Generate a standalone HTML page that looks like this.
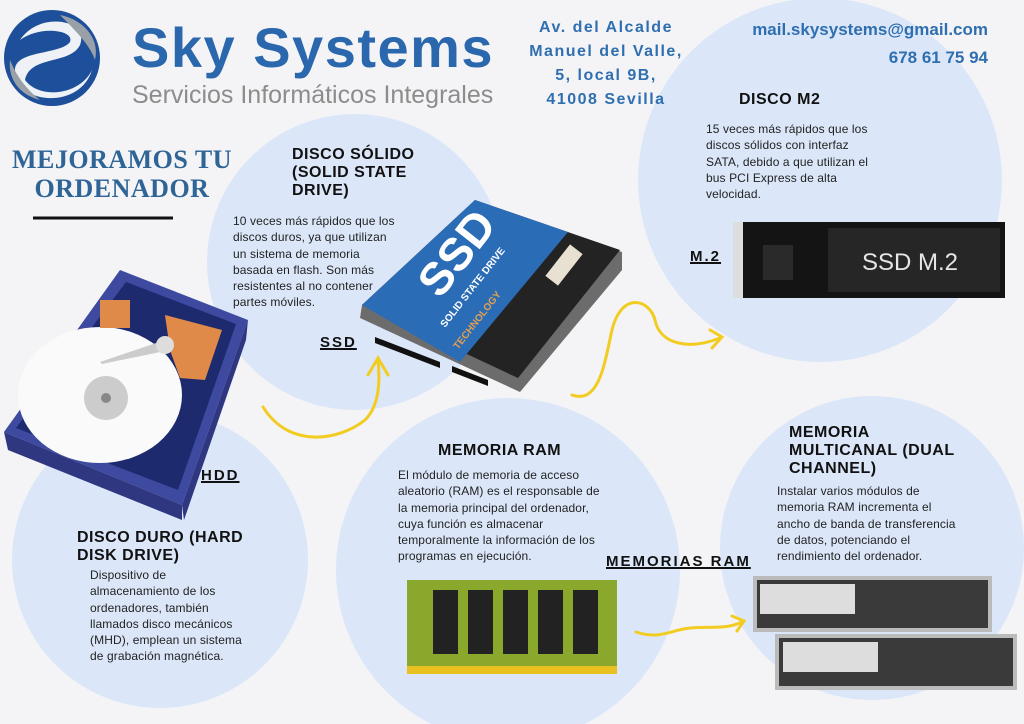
<!DOCTYPE html>
<html><head><meta charset="utf-8"><style>
body{margin:0;width:1024px;height:724px;overflow:hidden;background:#f4f4f6;position:relative;font-family:"Liberation Sans",sans-serif;}
.t{position:absolute;color:#111;}
.h{font-weight:bold;font-size:16px;line-height:18px;letter-spacing:0.5px;}
.p{font-size:12px;line-height:16.3px;color:#222;letter-spacing:0.1px;}
.u{font-weight:bold;font-size:15px;letter-spacing:2px;text-decoration:underline;text-decoration-thickness:2px;}
.addr{font-weight:bold;font-size:16px;line-height:24px;color:#2f6fb0;letter-spacing:1.5px;text-align:center;}
</style></head><body>
<svg width="1024" height="724" style="position:absolute;left:0;top:0">
<g fill="#dbe7f8">
<circle cx="355" cy="262" r="148"/>
<circle cx="820" cy="180" r="182"/>
<circle cx="160" cy="560" r="148"/>
<circle cx="508" cy="570" r="172"/>
<circle cx="872" cy="548" r="152"/>
</g>
<!-- logo -->
<circle cx="52" cy="58" r="48" fill="#1d4f9a"/>
<path d="M20 40 C40 10 90 20 80 45 C70 65 30 55 25 80 C40 100 80 95 92 70 C80 110 15 105 15 70 C15 50 60 55 70 42 C75 30 40 25 20 40Z" fill="#eef1f5"/>
<path d="M60 15 C85 20 100 40 95 60 C90 45 75 30 60 15Z" fill="#9aa0a8"/>
<path d="M40 100 C20 95 8 80 10 60 C18 80 30 92 40 100Z" fill="#9aa0a8"/>
<line x1="33" y1="218" x2="173" y2="218" stroke="#111" stroke-width="3"/>
<!-- HDD -->
<g>
<polygon points="120,270 248,320 182,505 4,432" fill="#3e4aa0"/>
<polygon points="4,432 182,505 182,520 8,450" fill="#2e3780"/>
<polygon points="182,505 248,320 246,340 184,520" fill="#2e3780"/>
<polygon points="126,282 236,324 178,490 16,428" fill="#1d2a6e"/>
<ellipse cx="100" cy="395" rx="82" ry="68" fill="#fafafa"/>
<circle cx="106" cy="398" r="22" fill="#ccc"/>
<circle cx="106" cy="398" r="5" fill="#888"/>
<path d="M165 315 L222 330 L205 380 L180 378 L170 350Z" fill="#e08a4a"/>
<rect x="100" y="300" width="30" height="28" fill="#e08a4a"/>
<path d="M100 362 L165 340 L170 350 L102 364Z" fill="#ccc"/>
<circle cx="165" cy="345" r="9" fill="#ddd"/>
</g>
<!-- SSD -->
<g>
<polygon points="475,203 622,252 622,270 520,392 360,318 362,305" fill="#6c6c6c"/>
<polygon points="475,200 620,250 518,378 362,305" fill="#232323"/>
<polygon points="475,200 568,232 460,362 362,305" fill="#2a6cb6"/>
<polygon points="375,337 440,362 440,368 375,343" fill="#111"/>
<polygon points="452,366 488,380 488,386 452,372" fill="#111"/>
<text x="0" y="0" transform="translate(440,300) rotate(-52)" font-family="Liberation Sans" font-weight="bold" font-size="46" fill="#fff">SSD</text>
<text x="0" y="0" transform="translate(445,328) rotate(-52)" font-family="Liberation Sans" font-weight="bold" font-size="10" fill="#fff">SOLID STATE DRIVE</text>
<text x="0" y="0" transform="translate(458,350) rotate(-52)" font-family="Liberation Sans" font-weight="bold" font-size="10" fill="#e0a050">TECHNOLOGY</text>
<rect x="556" y="245" width="16" height="40" transform="rotate(38 564 265)" fill="#e8e0d0"/>
</g>
<!-- M.2 -->
<rect x="733" y="222" width="272" height="76" fill="#141414"/>
<rect x="733" y="222" width="10" height="76" fill="#ddd"/>
<rect x="763" y="245" width="30" height="35" fill="#2a2a2a"/>
<rect x="828" y="228" width="172" height="64" fill="#262626"/>
<text x="862" y="270" font-family="Liberation Sans" font-size="24" fill="#e6e6e6">SSD M.2</text>
<!-- RAM green -->
<rect x="407" y="580" width="210" height="86" fill="#8aa82c"/>
<rect x="407" y="666" width="210" height="8" fill="#e8c020"/>
<g fill="#222"><rect x="433" y="590" width="25" height="64"/><rect x="468" y="590" width="25" height="64"/><rect x="503" y="590" width="25" height="64"/><rect x="538" y="590" width="25" height="64"/><rect x="573" y="590" width="25" height="64"/></g>
<!-- dual RAM -->
<rect x="755" y="578" width="235" height="52" fill="#3a3a3a" stroke="#bbb" stroke-width="4"/>
<rect x="760" y="584" width="95" height="30" fill="#ddd"/>
<rect x="777" y="636" width="238" height="52" fill="#3a3a3a" stroke="#bbb" stroke-width="4"/>
<rect x="783" y="642" width="95" height="30" fill="#ddd"/>
<!-- arrows -->
<g fill="none" stroke="#f2cc20" stroke-width="3" stroke-linecap="round">
<path d="M263 407 C290 450 340 440 365 420 C380 405 380 380 378 360"/>
<path d="M368 375 L378 358 L388 375"/>
<path d="M572 395 C600 405 605 360 612 330 C622 290 650 300 655 320 C660 345 690 350 720 338"/>
<path d="M710 330 L722 337 L712 348"/>
<path d="M636 632 C660 640 670 630 690 628 C710 626 725 630 742 622"/>
<path d="M732 616 L744 621 L737 631"/>
</g>
</svg>
<div class="t" style="left:132px;top:16px;font-size:56px;font-weight:bold;color:#2a67ad;letter-spacing:1.5px;line-height:64px;">Sky Systems</div>
<div class="t" style="left:132px;top:79px;font-size:25px;color:#8c8c8c;line-height:32px;">Servicios Informáticos Integrales</div>
<div class="t addr" style="left:510px;top:16px;width:192px;">Av. del Alcalde<br>Manuel del Valle,<br>5, local 9B,<br>41008 Sevilla</div>
<div class="t" style="left:700px;top:16px;width:288px;text-align:right;font-weight:bold;font-size:17px;line-height:28px;color:#2f6fb0;">mail.skysystems@gmail.com<br>678 61 75 94</div>
<div class="t" style="left:4px;top:145px;width:236px;text-align:center;font-family:'Liberation Serif',serif;font-weight:bold;font-size:26px;line-height:29px;color:#2f6496;letter-spacing:0.5px;">MEJORAMOS TU<br>ORDENADOR</div>
<div class="t h" style="left:292px;top:146px;">DISCO SÓLIDO<br>(SOLID STATE<br>DRIVE)</div>
<div class="t p" style="left:233px;top:213px;width:175px;">10 veces más rápidos que los<br>discos duros, ya que utilizan<br>un sistema de memoria<br>basada en flash. Son más<br>resistentes al no contener<br>partes móviles.</div>
<div class="t u" style="left:320px;top:334px;">SSD</div>
<div class="t h" style="left:739px;top:91px;">DISCO M2</div>
<div class="t p" style="left:706px;top:121px;width:190px;">15 veces más rápidos que los<br>discos sólidos con interfaz<br>SATA, debido a que utilizan el<br>bus PCI Express de alta<br>velocidad.</div>
<div class="t u" style="left:690px;top:248px;">M.2</div>
<div class="t u" style="left:201px;top:467px;">HDD</div>
<div class="t h" style="left:77px;top:529px;">DISCO DURO (HARD<br>DISK DRIVE)</div>
<div class="t p" style="left:90px;top:567px;width:180px;">Dispositivo de<br>almacenamiento de los<br>ordenadores, también<br>llamados disco mecánicos<br>(MHD), emplean un sistema<br>de grabación magnética.</div>
<div class="t h" style="left:438px;top:442px;">MEMORIA RAM</div>
<div class="t p" style="left:398px;top:467px;width:230px;">El módulo de memoria de acceso<br>aleatorio (RAM) es el responsable de<br>la memoria principal del ordenador,<br>cuya función es almacenar<br>temporalmente la información de los<br>programas en ejecución.</div>
<div class="t u" style="left:606px;top:553px;">MEMORIAS RAM</div>
<div class="t h" style="left:789px;top:424px;">MEMORIA<br>MULTICANAL (DUAL<br>CHANNEL)</div>
<div class="t p" style="left:777px;top:483px;width:200px;">Instalar varios módulos de<br>memoria RAM incrementa el<br>ancho de banda de transferencia<br>de datos, potenciando el<br>rendimiento del ordenador.</div>
</body></html>
